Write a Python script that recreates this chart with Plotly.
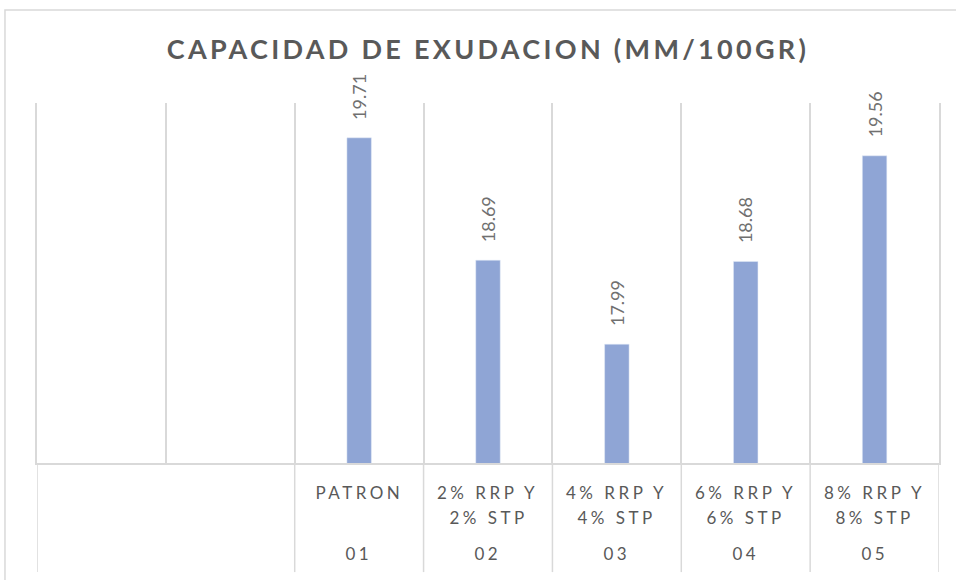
import plotly.graph_objects as go

# categories: two empty slots at the left, then the five mixes
GROUPS = ["", "", "01", "02", "03", "04", "05"]
MIX_LINE1 = ["", "", "PATRON", "2% RRP Y", "4% RRP Y", "6% RRP Y", "8% RRP Y"]
MIX_LINE2 = ["", "", "", "2% STP", "4% STP", "6% STP", "8% STP"]
VALUES = [None, None, 19.71, 18.69, 17.99, 18.68, 19.56]

GRID = "#D9D9D9"
TEXT = "#595959"
LABEL = "#707070"
BAR = "#8FA5D5"
FONT = "Lato"

x_pos = [i + 0.5 for i in range(len(GROUPS))]

fig = go.Figure(
    go.Bar(x=x_pos, y=VALUES, width=0.19, marker_color=BAR, hoverinfo="skip")
)

# data labels, rotated, above the bars
for x, v in zip(x_pos, VALUES):
    if v is not None:
        fig.add_annotation(x=x, y=v, text=f"{v:.2f}", textangle=-90, showarrow=False,
                           yanchor="bottom", yshift=16,
                           font=dict(family=FONT, size=18, color=LABEL))
n_data = len(fig.layout.annotations)

# multi level category labels under the axis
for x, l1, l2, grp in zip(x_pos, MIX_LINE1, MIX_LINE2, GROUPS):
    for txt, yy in ((l1, -0.0806), (l2, -0.15), (grp, -0.25)):
        if txt:
            fig.add_annotation(x=x, y=yy, xref="x", yref="paper", text=txt,
                               showarrow=False, yanchor="middle",
                               font=dict(family=FONT, size=17, color=TEXT))
n_all = len(fig.layout.annotations)

# separators of the category axis: empty group spans the first two slots
bounds = [0] + [i + 1 for i, g in enumerate(GROUPS) if g or i == 1]
for b in bounds:
    fig.add_shape(type="line", xref="x", yref="paper", x0=b, x1=b, y0=0, y1=-0.303,
                  line=dict(color=GRID, width=1.5))

# chart border
fig.add_shape(type="rect", xref="paper", yref="paper", x0=-0.0355, x1=1.1, y0=-0.4, y1=1.258,
              line=dict(color=GRID, width=1.5))

fig.update_layout(
    title=dict(text="<b>CAPACIDAD DE EXUDACION (MM/100GR)</b>", x=0.5, xref="paper",
               y=0.914, yanchor="middle",
               font=dict(family=FONT, size=27, color=TEXT)),
    width=956,
    height=580,
    margin=dict(l=37, r=17, t=103, b=117),
    paper_bgcolor="white",
    plot_bgcolor="white",
    showlegend=False,
    xaxis=dict(range=[0, len(GROUPS)], tickvals=list(range(len(GROUPS) + 1)),
               showticklabels=False, showgrid=True, gridcolor=GRID, gridwidth=1.5,
               showline=True, linecolor=GRID, linewidth=1.5, zeroline=False, ticks=""),
    yaxis=dict(range=[17, 20], showticklabels=False, showgrid=False, zeroline=False,
               showline=True, mirror=True, linecolor=GRID, linewidth=1.5, ticks=""),
)

# Excel-style letter spacing for the title and the category labels
css = "body{margin:0}.gtitle{letter-spacing:3.3px}" + "".join(
    f'.annotation[data-index="{i}"] text{{letter-spacing:3.5px}}' for i in range(n_data, n_all)
)
post = f"var s=document.createElement('style');s.textContent='{css}';document.head.appendChild(s);"

fig.write_html("out.html", post_script=post, config={"displayModeBar": False})
